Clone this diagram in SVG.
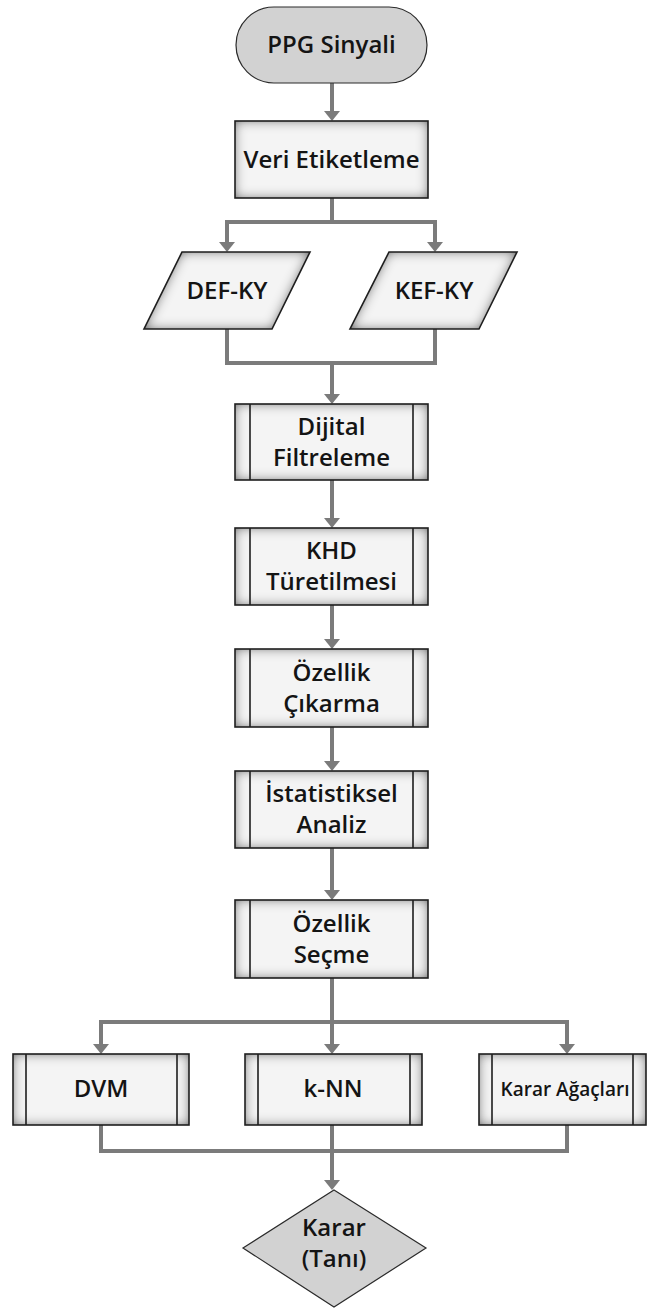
<svg xmlns="http://www.w3.org/2000/svg" width="648" height="1309" viewBox="0 0 648 1309">
  <style>
    .txt { font-family: "Open Sans", "DejaVu Sans", sans-serif; font-weight: 600; font-size: 24px; fill: #141414; text-anchor: middle; }
    .small { font-size: 19px; }
    .fill { fill: #f4f4f4; filter: url(#inset); }
    .edge { fill: none; stroke: #1e1e1e; stroke-width: 1.6; }
    .grey { fill: #d2d2d2; stroke: #2a2a2a; stroke-width: 1.2; }
    .conn { fill: none; stroke: #7b7b7b; stroke-width: 4; stroke-linejoin: miter; }
    .arrow { marker-end: url(#head); }
  </style>
  <defs>
    <!-- soft dark shading along the inside of each box edge -->
    <filter id="inset" x="-20%" y="-40%" width="140%" height="180%">
      <feFlood flood-color="#1a1a1a" result="c"/>
      <feComposite in="c" in2="SourceAlpha" operator="out" result="outside"/>
      <feGaussianBlur in="outside" stdDeviation="6" result="blur"/>
      <feComposite in="blur" in2="SourceAlpha" operator="in" result="shade"/>
      <feMerge>
        <feMergeNode in="SourceGraphic"/>
        <feMergeNode in="shade"/>
      </feMerge>
    </filter>
    <marker id="head" viewBox="0 0 10 16" refX="0" refY="8" markerWidth="10" markerHeight="16" markerUnits="userSpaceOnUse" orient="auto">
      <path d="M0 0 L10 8 L0 16 Z" fill="#7b7b7b"/>
    </marker>
  </defs>

  <!-- connectors -->
  <g id="connectors">
    <path class="conn arrow" d="M332 83 V111"/>
    <path class="conn" d="M332 198 V222"/>
    <path class="conn arrow" d="M332 222 H227 V242"/>
    <path class="conn arrow" d="M332 222 H435 V242"/>
    <path class="conn" d="M227 329 V363 H435 V329"/>
    <path class="conn arrow" d="M332 363 V394"/>
    <path class="conn arrow" d="M332 480 V518"/>
    <path class="conn arrow" d="M332 605 V639"/>
    <path class="conn arrow" d="M332 727 V761"/>
    <path class="conn arrow" d="M332 848 V890"/>
    <path class="conn arrow" d="M332 978 V1044"/>
    <path class="conn arrow" d="M332 1022 H101 V1044"/>
    <path class="conn arrow" d="M332 1022 H567 V1044"/>
    <path class="conn" d="M101 1125 V1151 H567 V1125"/>
    <path class="conn arrow" d="M332 1125 V1180"/>
  </g>

  <!-- start terminal -->
  <g id="ppg">
    <rect class="grey" x="236" y="7" width="191" height="76" rx="38" ry="38"/>
    <text class="txt" x="331.5" y="53">PPG Sinyali</text>
  </g>

  <!-- process -->
  <g id="veri">
    <rect class="fill" x="235" y="121" width="193" height="77"/>
    <rect class="edge" x="235" y="121" width="193" height="77"/>
    <text class="txt" x="331.5" y="168">Veri Etiketleme</text>
  </g>

  <!-- data inputs -->
  <g id="defky">
    <polygon class="fill" points="182,252 310,252 272,329 144,329"/>
    <polygon class="edge" points="182,252 310,252 272,329 144,329"/>
    <text class="txt" x="227" y="299">DEF-KY</text>
  </g>
  <g id="kefky">
    <polygon class="fill" points="389,252 517,252 479,329 350,329"/>
    <polygon class="edge" points="389,252 517,252 479,329 350,329"/>
    <text class="txt" x="434" y="299">KEF-KY</text>
  </g>

  <!-- predefined processes -->
  <g id="filtre">
    <rect class="fill" x="235" y="404" width="193" height="76"/>
    <rect class="edge" x="235" y="404" width="193" height="76"/>
    <path class="edge" d="M250 404 V480 M413 404 V480"/>
    <text class="txt" x="331.5" y="435">Dijital</text>
    <text class="txt" x="331.5" y="466">Filtreleme</text>
  </g>
  <g id="khd">
    <rect class="fill" x="235" y="528" width="193" height="77"/>
    <rect class="edge" x="235" y="528" width="193" height="77"/>
    <path class="edge" d="M250 528 V605 M413 528 V605"/>
    <text class="txt" x="331.5" y="559">KHD</text>
    <text class="txt" x="331.5" y="590">Türetilmesi</text>
  </g>
  <g id="cikarma">
    <rect class="fill" x="235" y="649" width="193" height="78"/>
    <rect class="edge" x="235" y="649" width="193" height="78"/>
    <path class="edge" d="M250 649 V727 M413 649 V727"/>
    <text class="txt" x="331.5" y="681">Özellik</text>
    <text class="txt" x="331.5" y="712">Çıkarma</text>
  </g>
  <g id="istatistik">
    <rect class="fill" x="235" y="771" width="193" height="77"/>
    <rect class="edge" x="235" y="771" width="193" height="77"/>
    <path class="edge" d="M250 771 V848 M413 771 V848"/>
    <text class="txt" x="331.5" y="802">İstatistiksel</text>
    <text class="txt" x="331.5" y="833">Analiz</text>
  </g>
  <g id="secme">
    <rect class="fill" x="235" y="900" width="193" height="78"/>
    <rect class="edge" x="235" y="900" width="193" height="78"/>
    <path class="edge" d="M250 900 V978 M413 900 V978"/>
    <text class="txt" x="331.5" y="932">Özellik</text>
    <text class="txt" x="331.5" y="963">Seçme</text>
  </g>

  <!-- classifiers -->
  <g id="dvm">
    <rect class="fill" x="13" y="1054" width="176" height="71"/>
    <rect class="edge" x="13" y="1054" width="176" height="71"/>
    <path class="edge" d="M26 1054 V1125 M177 1054 V1125"/>
    <text class="txt" x="101" y="1097">DVM</text>
  </g>
  <g id="knn">
    <rect class="fill" x="245" y="1054" width="177" height="71"/>
    <rect class="edge" x="245" y="1054" width="177" height="71"/>
    <path class="edge" d="M258 1054 V1125 M410 1054 V1125"/>
    <text class="txt" x="333" y="1097">k-NN</text>
  </g>
  <g id="agac">
    <rect class="fill" x="479" y="1054" width="167" height="71"/>
    <rect class="edge" x="479" y="1054" width="167" height="71"/>
    <path class="edge" d="M492 1054 V1125 M633 1054 V1125"/>
    <text class="txt small" x="565" y="1096">Karar Ağaçları</text>
  </g>

  <!-- decision -->
  <g id="karar">
    <polygon class="grey" points="334,1190 426,1248 334,1307 243,1248"/>
    <text class="txt" x="334" y="1236">Karar</text>
    <text class="txt" x="334" y="1267">(Tanı)</text>
  </g>
</svg>
